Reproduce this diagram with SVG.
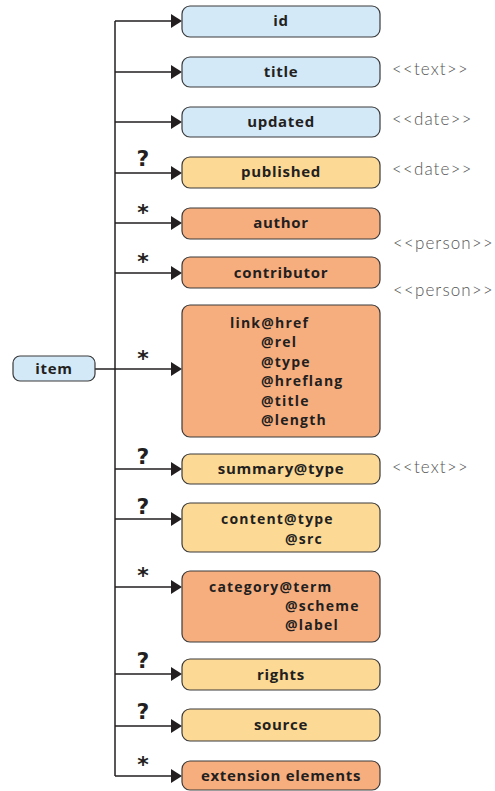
<svg xmlns="http://www.w3.org/2000/svg" width="495" height="791" viewBox="0 0 495 791">
  <style>
    .box { stroke: #3a3a3a; stroke-width: 1.2; }
    .blue { fill: #d3e9f8; }
    .yellow { fill: #fcd995; }
    .orange { fill: #f7ae7f; }
    .lbl { font-family: "Open Sans", "Liberation Sans", sans-serif; font-weight: bold; font-size: 15px; letter-spacing: 0.7px; fill: #231f20; }
    .multi { font-size: 14px; letter-spacing: 1.2px; }
    .mid { text-anchor: middle; }
    .note { font-family: Lato, "Liberation Sans", sans-serif; font-weight: 300; font-size: 17px; letter-spacing: 1.1px; fill: #555; }
    .card { font-family: "DejaVu Sans", sans-serif; font-weight: bold; font-size: 22px; fill: #231f20; text-anchor: middle; }
    .wire { stroke: #231f20; stroke-width: 1.5; fill: none; }
    .head { fill: #231f20; }
  </style>
  <defs>
    <path id="arrow" class="head" d="M171,-7 L182,0 L171,7 Z"/>
  </defs>

  <!-- connectors -->
  <g id="connectors">
    <path class="wire" d="M115,21 V776"/>
    <path class="wire" d="M95,369 H176"/>
    <path class="wire" d="M115,21 H176 M115,72 H176 M115,122 H176 M115,173 H176 M115,223 H176 M115,273 H176 M115,469 H176 M115,519 H176 M115,587 H176 M115,674 H176 M115,726 H176 M115,776 H176"/>
    <use href="#arrow" y="21"/>
    <use href="#arrow" y="72"/>
    <use href="#arrow" y="122"/>
    <use href="#arrow" y="173"/>
    <use href="#arrow" y="223"/>
    <use href="#arrow" y="273"/>
    <use href="#arrow" y="369"/>
    <use href="#arrow" y="469"/>
    <use href="#arrow" y="519"/>
    <use href="#arrow" y="587"/>
    <use href="#arrow" y="674"/>
    <use href="#arrow" y="726"/>
    <use href="#arrow" y="776"/>
    <!-- cardinality marks -->
    <text class="card" x="143" y="166">?</text>
    <text class="card" x="143" y="220">*</text>
    <text class="card" x="143" y="269">*</text>
    <text class="card" x="143" y="366">*</text>
    <text class="card" x="143" y="464">?</text>
    <text class="card" x="143" y="514">?</text>
    <text class="card" x="143" y="583">*</text>
    <text class="card" x="143" y="668">?</text>
    <text class="card" x="143" y="719">?</text>
    <text class="card" x="143" y="772">*</text>
  </g>

  <g id="item">
    <rect class="box blue" x="13" y="356" width="82" height="25" rx="7"/>
    <text class="lbl mid" x="54" y="374">item</text>
  </g>

  <g id="id">
    <rect class="box blue" x="182" y="6" width="198" height="31" rx="8"/>
    <text class="lbl mid" x="281" y="26">id</text>
  </g>

  <g id="title">
    <rect class="box blue" x="182" y="57" width="198" height="30" rx="8"/>
    <text class="lbl mid" x="281" y="77">title</text>
    <text class="note" x="392" y="75">&lt;&lt;text&gt;&gt;</text>
  </g>

  <g id="updated">
    <rect class="box blue" x="182" y="107" width="198" height="30" rx="8"/>
    <text class="lbl mid" x="281" y="127">updated</text>
    <text class="note" x="392" y="125">&lt;&lt;date&gt;&gt;</text>
  </g>

  <g id="published">
    <rect class="box yellow" x="182" y="157" width="198" height="31" rx="8"/>
    <text class="lbl mid" x="281" y="177">published</text>
    <text class="note" x="392" y="175">&lt;&lt;date&gt;&gt;</text>
  </g>

  <g id="author">
    <rect class="box orange" x="182" y="208" width="198" height="31" rx="8"/>
    <text class="lbl mid" x="281" y="228">author</text>
    <text class="note" x="393" y="249">&lt;&lt;person&gt;&gt;</text>
  </g>

  <g id="contributor">
    <rect class="box orange" x="182" y="257" width="198" height="31" rx="8"/>
    <text class="lbl mid" x="281" y="278">contributor</text>
    <text class="note" x="393" y="296">&lt;&lt;person&gt;&gt;</text>
  </g>

  <g id="link">
    <rect class="box orange" x="182" y="305" width="198" height="132" rx="8"/>
    <text class="lbl multi" x="230" y="328">link@href</text>
    <text class="lbl multi" x="261" y="347.4">@rel</text>
    <text class="lbl multi" x="261" y="366.8">@type</text>
    <text class="lbl multi" x="261" y="386.2">@hreflang</text>
    <text class="lbl multi" x="261" y="405.6">@title</text>
    <text class="lbl multi" x="261" y="425">@length</text>
  </g>

  <g id="summary">
    <rect class="box yellow" x="182" y="454" width="198" height="30" rx="8"/>
    <text class="lbl mid" x="281" y="474">summary@type</text>
    <text class="note" x="392" y="473">&lt;&lt;text&gt;&gt;</text>
  </g>

  <g id="content">
    <rect class="box yellow" x="182" y="503" width="198" height="49" rx="8"/>
    <text class="lbl multi" x="221" y="524">content@type</text>
    <text class="lbl multi" x="285" y="544">@src</text>
  </g>

  <g id="category">
    <rect class="box orange" x="182" y="571" width="198" height="71" rx="8"/>
    <text class="lbl multi" x="209" y="591.6">category@term</text>
    <text class="lbl multi" x="285" y="611">@scheme</text>
    <text class="lbl multi" x="285" y="630.4">@label</text>
  </g>

  <g id="rights">
    <rect class="box yellow" x="182" y="659" width="198" height="31" rx="8"/>
    <text class="lbl mid" x="281" y="680">rights</text>
  </g>

  <g id="source">
    <rect class="box yellow" x="182" y="709" width="198" height="32" rx="8"/>
    <text class="lbl mid" x="281" y="730">source</text>
  </g>

  <g id="extension">
    <rect class="box orange" x="182" y="761" width="198" height="29" rx="8"/>
    <text class="lbl mid" x="281" y="781">extension elements</text>
  </g>
</svg>
